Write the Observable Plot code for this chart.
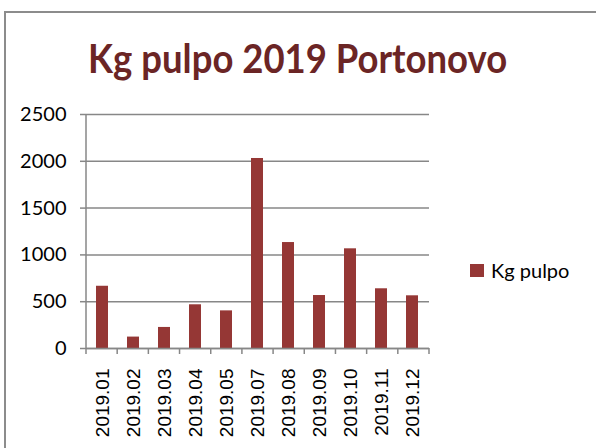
<!DOCTYPE html>
<html>
<head>
<meta charset="utf-8">
<script src="https://cdn.jsdelivr.net/npm/d3@7"></script>
<script src="https://cdn.jsdelivr.net/npm/@observablehq/plot@0.6"></script>
<style>
  html, body { margin: 0; padding: 0; background: #fff; overflow: hidden; }
  #wrap { position: relative; width: 596px; height: 448px; overflow: hidden; font-family: Lato, "Liberation Sans", Arial, sans-serif; }
  #frame { position: absolute; left: 4px; top: 11px; width: 620px; height: 470px; border: 2px solid #8c8c8c; box-sizing: border-box; }
  #title { position: absolute; left: 0; top: 38px; width: 596px; text-align: center; white-space: nowrap; }
  #title span { display: inline-block; font-family: Lato, "Liberation Sans", sans-serif; font-weight: bold; font-size: 40px; line-height: 40px; color: #6b2525; transform-origin: center; }
  #chart { position: absolute; left: 0; top: 0; }
  #legend { position: absolute; left: 470px; top: 258px; display: flex; align-items: center; font-family: Lato, "Liberation Sans", sans-serif; font-size: 20px; color: #000; }
  #legend .sw { width: 14px; height: 13px; background: #953735; margin-right: 7px; }
</style>
</head>
<body>
<div id="wrap">
  <div id="frame"></div>
  <div id="chart"></div>
  <div id="title"><span id="tspan">Kg pulpo 2019 Portonovo</span></div>
  <div id="legend"><div class="sw"></div><div id="ltext">Kg pulpo</div></div>
</div>
<script>
const categories = ["2019.01","2019.02","2019.03","2019.04","2019.05","2019.07","2019.08","2019.09","2019.10","2019.11","2019.12"];
const values = [665, 122, 225, 467, 402, 2030, 1132, 566, 1065, 638, 563];
const yTicks = [0, 500, 1000, 1500, 2000, 2500];
const seriesName = "Kg pulpo";

const data = categories.map((c, i) => ({month: c, kg: values[i]}));
const gridColor = "#878787";

// left axis line and band-boundary tick marks below the x axis
function bandTicks(index, scales, values, dims) {
  const y = scales.y;
  const left = dims.marginLeft, right = dims.width - dims.marginRight;
  const n = categories.length;
  const y0 = y(0);
  const g = d3.create("svg:g").attr("stroke", gridColor).attr("stroke-width", 1.5);
  g.append("line").attr("x1", left).attr("x2", left).attr("y1", y(yTicks[yTicks.length - 1])).attr("y2", y0);
  for (let i = 0; i <= n; i++) {
    const e = left + i * (right - left) / n;
    g.append("line").attr("x1", e).attr("x2", e).attr("y1", y0).attr("y2", y0 + 6);
  }
  return g.node();
}

const chart = Plot.plot({
  width: 596,
  height: 448,
  marginTop: 114,
  marginBottom: 100,
  marginLeft: 86,
  marginRight: 167,
  style: {fontFamily: "Liberation Sans, Arial, sans-serif", background: "transparent", overflow: "visible"},
  x: {domain: categories, paddingInner: 0.6, paddingOuter: 0.3},
  y: {domain: [0, 2500]},
  marks: [
    Plot.gridY(yTicks, {stroke: gridColor, strokeOpacity: 1, strokeWidth: 1.5}),
    Plot.axisY({ticks: yTicks, tickFormat: d => String(d), tickSize: 6, tickPadding: 14, stroke: gridColor, strokeWidth: 1.5, fontSize: 20, fontFamily: "Lato, Liberation Sans, sans-serif", fill: "#000", label: null}),
    Plot.axisX({tickSize: 0, tickRotate: -90, tickPadding: 20, fontSize: 19, fill: "#000", label: null}),
    Plot.barY(data, {x: "month", y: "kg", fill: "#953735"}),
    Plot.ruleY([0], {stroke: gridColor, strokeWidth: 1.5}),
    bandTicks
  ]
});
document.getElementById("chart").appendChild(chart);
document.getElementById("ltext").textContent = seriesName;

// fit title width
const ts = document.getElementById("tspan");
const w = ts.getBoundingClientRect().width;
ts.style.transform = `scaleX(${419 / w})`;
</script>
</body>
</html>
